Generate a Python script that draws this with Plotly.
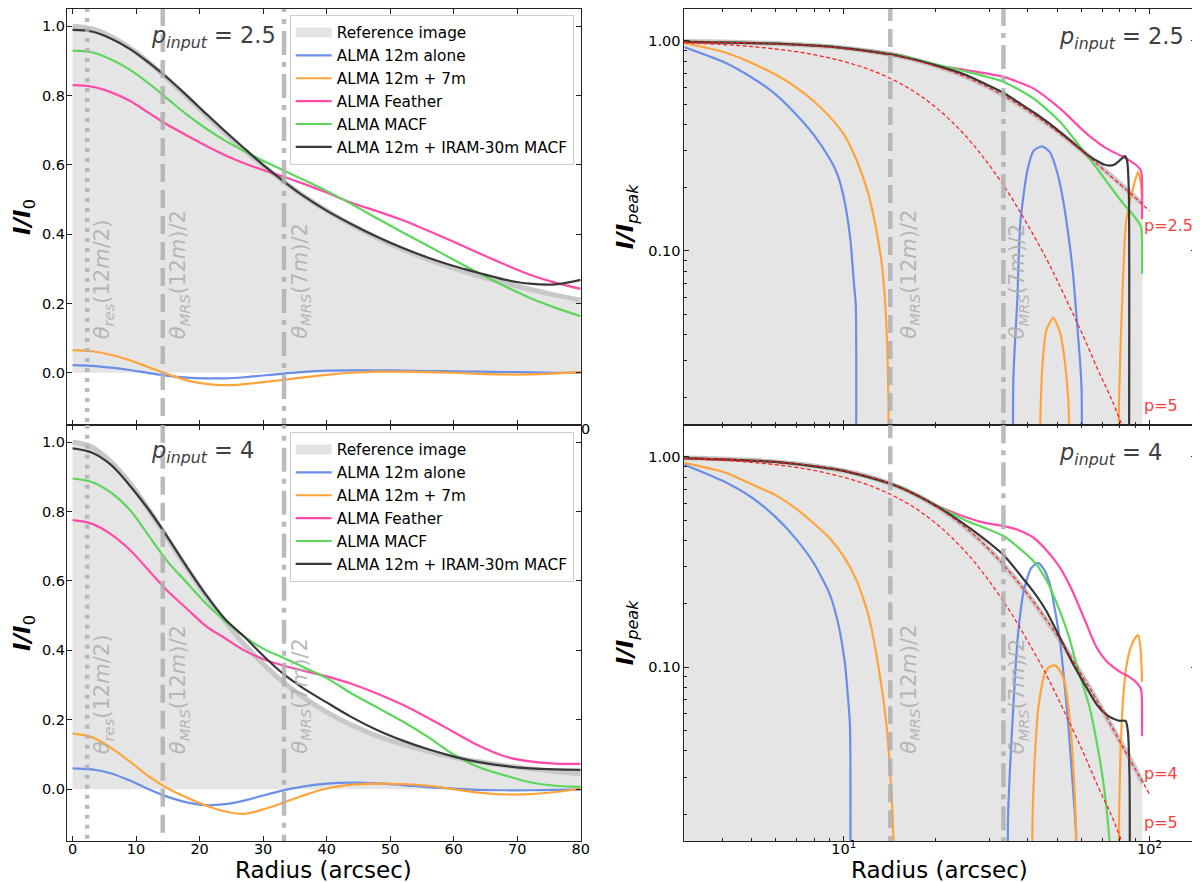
import plotly.graph_objects as go

# ---- radial profiles, linear panels (I/I0) ----
r_lin = [0, 3, 6, 9, 12, 15, 18, 21, 24, 27, 30, 33, 36, 40, 44, 48, 52, 56, 60, 64, 68, 72, 76, 80]

# p_input = 2.5
ref25 = [1.0, 0.993, 0.971, 0.938, 0.896, 0.848, 0.796, 0.744, 0.693, 0.644, 0.598, 0.555, 0.515, 0.468, 0.426, 0.389, 0.356, 0.327, 0.302, 0.279, 0.259, 0.241, 0.224, 0.210]
alone25 = [0.022, 0.02, 0.015, 0.008, -0.001, -0.009, -0.014, -0.016, -0.016, -0.013, -0.008, -0.003, 0.002, 0.006, 0.007, 0.007, 0.006, 0.005, 0.004, 0.003, 0.002, 0.001, 0.0, 0.0]
aca25 = [0.065, 0.062, 0.052, 0.036, 0.016, -0.004, -0.022, -0.032, -0.036, -0.033, -0.027, -0.021, -0.014, -0.006, 0.0, 0.003, 0.003, 0.002, 0.0, -0.003, -0.005, -0.005, -0.002, 0.002]
feather25 = [0.83, 0.826, 0.81, 0.785, 0.75, 0.715, 0.685, 0.655, 0.628, 0.605, 0.585, 0.567, 0.548, 0.52, 0.49, 0.466, 0.44, 0.41, 0.378, 0.345, 0.313, 0.283, 0.26, 0.242]
macf25 = [0.93, 0.925, 0.905, 0.875, 0.835, 0.79, 0.745, 0.705, 0.67, 0.64, 0.612, 0.586, 0.56, 0.525, 0.486, 0.445, 0.405, 0.366, 0.326, 0.287, 0.25, 0.216, 0.188, 0.163]
iram25 = [0.99, 0.985, 0.965, 0.935, 0.895, 0.85, 0.80, 0.748, 0.697, 0.648, 0.600, 0.556, 0.515, 0.468, 0.428, 0.392, 0.36, 0.332, 0.308, 0.288, 0.269, 0.257, 0.255, 0.268]

# p_input = 4
ref4 = [1.0, 0.986, 0.944, 0.882, 0.805, 0.721, 0.637, 0.557, 0.484, 0.418, 0.361, 0.311, 0.269, 0.222, 0.184, 0.153, 0.129, 0.109, 0.092, 0.079, 0.068, 0.059, 0.051, 0.045]
alone4 = [0.06, 0.057, 0.046, 0.025, 0.0, -0.022, -0.038, -0.046, -0.043, -0.033, -0.018, -0.004, 0.007, 0.016, 0.019, 0.017, 0.012, 0.006, 0.002, -0.002, -0.003, -0.003, -0.002, -0.001]
aca4 = [0.16, 0.15, 0.12, 0.08, 0.037, 0.002, -0.024, -0.047, -0.064, -0.071, -0.058, -0.04, -0.02, 0.002, 0.013, 0.016, 0.015, 0.01, 0.0, -0.01, -0.015, -0.014, -0.008, 0.002]
feather4 = [0.775, 0.765, 0.735, 0.69, 0.63, 0.57, 0.52, 0.47, 0.435, 0.4, 0.375, 0.357, 0.343, 0.325, 0.303, 0.275, 0.243, 0.205, 0.165, 0.125, 0.095, 0.08, 0.074, 0.073]
macf4 = [0.895, 0.885, 0.855, 0.805, 0.73, 0.655, 0.595, 0.535, 0.485, 0.44, 0.405, 0.38, 0.355, 0.32, 0.275, 0.235, 0.195, 0.15, 0.10, 0.063, 0.04, 0.02, 0.01, 0.007]
iram4 = [0.982, 0.97, 0.935, 0.875, 0.805, 0.725, 0.64, 0.56, 0.49, 0.44, 0.385, 0.335, 0.295, 0.25, 0.207, 0.17, 0.14, 0.115, 0.094, 0.078, 0.067, 0.06, 0.057, 0.056]

# ---- log panels (I/Ipeak), None breaks where the profile goes negative ----
ref_log_r = [3, 4, 5, 6, 7, 8, 10, 12, 14, 16, 18, 20, 23, 26, 30, 34, 38, 42, 47, 52, 58, 64, 70, 76, 82, 88, 95]
ref25_log = [0.993, 0.987, 0.98, 0.971, 0.962, 0.95, 0.925, 0.896, 0.864, 0.831, 0.796, 0.761, 0.71, 0.66, 0.598, 0.541, 0.491, 0.446, 0.398, 0.356, 0.314, 0.279, 0.249, 0.224, 0.203, 0.185, 0.167]
ref4_log = [0.986, 0.975, 0.961, 0.944, 0.925, 0.904, 0.857, 0.805, 0.749, 0.693, 0.637, 0.583, 0.507, 0.439, 0.361, 0.296, 0.244, 0.202, 0.16, 0.129, 0.1, 0.079, 0.063, 0.051, 0.042, 0.035, 0.028]

law_r = [3, 5, 8, 12, 16, 20, 25, 30, 35, 40, 46, 52, 60, 68, 76, 84, 92, 100]
law25 = [0.99, 0.978, 0.948, 0.893, 0.828, 0.758, 0.675, 0.596, 0.527, 0.466, 0.405, 0.354, 0.30, 0.257, 0.222, 0.196, 0.174, 0.155]
law4 = [0.986, 0.961, 0.904, 0.805, 0.693, 0.583, 0.461, 0.361, 0.282, 0.222, 0.168, 0.129, 0.092, 0.068, 0.051, 0.039, 0.031, 0.025]
law5 = [0.98, 0.94, 0.86, 0.735, 0.605, 0.483, 0.354, 0.255, 0.184, 0.133, 0.092, 0.064, 0.041, 0.027, 0.019, 0.013, None, None]

alone25_r = [3, 4, 5, 6, 7, 8, 9, 9.5, 10, 10.5, 10.8, 10.95, 10.96, None, 35.8, 35.9, 37, 37.8, 39.8, 41.8, 44.5, 47.3, 50, 52.3, 54.5, 56.3, 58, 59.2, 60, 60.05]
alone25_log = [0.936, 0.80, 0.67, 0.555, 0.445, 0.355, 0.275, 0.235, 0.18, 0.115, 0.07, 0.055, 0.005, None, 0.005, 0.025, 0.06, 0.135, 0.238, 0.30, 0.315, 0.295, 0.235, 0.172, 0.115, 0.077, 0.045, 0.031, 0.022, 0.005]
aca25_r = [3, 4, 5, 6, 7, 8, 9, 10, 11, 12, 12.6, 13.3, 13.7, 14.0, 14.02, None, 43.9, 44.0, 44.8, 46, 48.5, 51, 53, 54.5, 54.6, None, 79.4, 79.6, 81.3, 83.9, 88.5, 91.8, 93.5, 94.6]
aca25_log = [0.978, 0.89, 0.785, 0.69, 0.6, 0.515, 0.435, 0.36, 0.272, 0.19, 0.14, 0.088, 0.053, 0.02, 0.005, None, 0.005, 0.016, 0.03, 0.042, 0.048, 0.041, 0.029, 0.017, 0.005, None, 0.005, 0.02, 0.053, 0.138, 0.2, 0.238, 0.215, 0.18]
feather25_r = [3, 6, 10, 15.4, 19.8, 25.4, 33.4, 41.8, 51, 62.3, 72.3, 81.1, 86, 91.8, 94.0, 94.6]
feather25_log = [0.993, 0.972, 0.927, 0.855, 0.77, 0.725, 0.674, 0.593, 0.477, 0.362, 0.308, 0.283, 0.27, 0.252, 0.24, 0.142]
macf25_r = [3, 6, 10, 15.4, 19.8, 25.4, 33.4, 41.8, 51, 62.3, 68.7, 75, 81.1, 83.9, 88, 91.8, 94.0, 94.6]
macf25_log = [0.993, 0.972, 0.927, 0.852, 0.775, 0.712, 0.638, 0.532, 0.412, 0.286, 0.238, 0.2, 0.172, 0.162, 0.15, 0.138, 0.13, 0.078]
iram25_r = [3, 6, 10, 15, 20, 25, 30, 33.4, 38, 42, 47, 52, 58, 63, 67.5, 71, 74, 77, 80, 83.2, 84.5, 85.6, 85.7]
iram25_log = [0.99, 0.97, 0.925, 0.85, 0.765, 0.69, 0.61, 0.565, 0.5, 0.455, 0.405, 0.36, 0.315, 0.285, 0.268, 0.258, 0.255, 0.258, 0.27, 0.283, 0.27, 0.2, 0.005]

alone4_r = [3, 4, 5, 6, 7, 8, 9, 9.6, 10.1, 10.3, 10.48, 10.5, None, 34.4, 34.5, 35.6, 37, 38.8, 41, 43.2, 45.3, 47.3, 49, 51, 52.7, 54.3, 56.3, 57.6, 57.7]
alone4_log = [0.919, 0.77, 0.64, 0.515, 0.405, 0.31, 0.222, 0.16, 0.103, 0.075, 0.053, 0.005, None, 0.005, 0.02, 0.053, 0.133, 0.23, 0.295, 0.313, 0.29, 0.247, 0.19, 0.133, 0.085, 0.053, 0.026, 0.016, 0.005]
aca4_r = [3, 4, 5, 6, 7, 8, 9, 10, 11, 12, 13, 13.8, 14.3, 14.55, 14.56, None, 41.3, 41.5, 42.3, 43.3, 45.3, 47, 49.1, 51, 53, 54.5, 55.7, 57, 57.5, 57.6, None, 79.4, 79.6, 80.5, 82, 84, 87, 90, 91.8, 93.5, 94.6]
aca4_log = [0.936, 0.85, 0.74, 0.655, 0.565, 0.48, 0.41, 0.335, 0.26, 0.18, 0.1, 0.053, 0.026, 0.015, 0.005, None, 0.005, 0.02, 0.04, 0.064, 0.092, 0.1, 0.102, 0.096, 0.083, 0.062, 0.044, 0.025, 0.016, 0.005, None, 0.005, 0.02, 0.04, 0.07, 0.1, 0.125, 0.138, 0.142, 0.125, 0.085]
feather4_r = [3, 6, 10, 15.4, 19.8, 25.4, 29, 33.4, 37, 41.8, 46, 51, 56, 62.3, 67, 72.3, 77, 81.1, 86, 91.8, 94.0, 94.6]
feather4_log = [0.985, 0.944, 0.857, 0.715, 0.593, 0.513, 0.485, 0.468, 0.45, 0.412, 0.36, 0.297, 0.23, 0.16, 0.125, 0.107, 0.099, 0.094, 0.09, 0.083, 0.078, 0.047]
macf4_r = [3, 6, 10, 15.4, 19.8, 25.4, 33.4, 41.8, 46, 51, 54.5, 57.8, 63.8, 68.7, 71.5, 74.1, 75.5]
macf4_log = [0.985, 0.944, 0.857, 0.715, 0.593, 0.494, 0.419, 0.319, 0.26, 0.184, 0.14, 0.103, 0.064, 0.037, 0.025, 0.0149, 0.01]
iram4_r = [3, 6, 10, 14, 17, 20, 23, 26, 28.6, 33.4, 38.1, 41.8, 46, 51, 56, 62.3, 67.5, 72.3, 76, 80, 83.6, 85, 86.1, 86.2]
iram4_log = [0.985, 0.944, 0.857, 0.75, 0.665, 0.585, 0.515, 0.455, 0.41, 0.34, 0.27, 0.228, 0.185, 0.138, 0.105, 0.08, 0.066, 0.0595, 0.057, 0.0556, 0.0556, 0.05, 0.03, 0.005]

# beam scales: theta_res(12m)/2, theta_MRS(12m)/2, theta_MRS(7m)/2
beam_r = [2.3, 14.2, 33.3]

names = ["ALMA 12m alone", "ALMA 12m + 7m", "ALMA Feather", "ALMA MACF", "ALMA 12m + IRAM-30m MACF"]
colors = ["#6a8ee8", "#ffa43a", "#ff4aa8", "#5cd65c", "#383838"]
FONT = "DejaVu Sans"
W, H = 1200, 882


def px(x):
    return x / W


def py(y):
    return 1 - y / H


fig = go.Figure()

panels = [
    ("x", "y", r_lin, ref25, [alone25, aca25, feather25, macf25, iram25], "legend"),
    ("x3", "y3", r_lin, ref4, [alone4, aca4, feather4, macf4, iram4], "legend2"),
]
for xa, ya, r, ref, curves, leg in panels:
    fig.add_trace(go.Scatter(x=r, y=ref, xaxis=xa, yaxis=ya, fill="tozeroy", fillcolor="#e5e5e5",
                             mode="lines", line=dict(color="#c8c8c8", width=5, shape="spline"),
                             showlegend=False, hoverinfo="skip"))
    fig.add_trace(go.Scatter(x=[None], y=[None], xaxis=xa, yaxis=ya, mode="lines", name="Reference image",
                             line=dict(color="#e3e3e3", width=10), legend=leg))
    for c, nm, col in zip(curves, names, colors):
        fig.add_trace(go.Scatter(x=r, y=c, xaxis=xa, yaxis=ya, mode="lines", name=nm, legend=leg,
                                 line=dict(color=col, width=2.2, shape="spline", smoothing=1)))
    for b, d in zip(beam_r, ["4px,6px", "18px,8px", "24px,7px,5px,7px"]):
        fig.add_trace(go.Scatter(x=[b, b], y=[-0.2, 1.1], xaxis=xa, yaxis=ya, mode="lines",
                                 line=dict(color="rgba(175,175,175,0.85)", width=4.5, dash=d),
                                 showlegend=False, hoverinfo="skip"))

log_panels = [
    ("x2", "y2", ref25_log, [(alone25_r, alone25_log), (aca25_r, aca25_log), (feather25_r, feather25_log),
                             (macf25_r, macf25_log), (iram25_r, iram25_log)], [law25, law5]),
    ("x4", "y4", ref4_log, [(alone4_r, alone4_log), (aca4_r, aca4_log), (feather4_r, feather4_log),
                            (macf4_r, macf4_log), (iram4_r, iram4_log)], [law4, law5]),
]
floor = 0.005
for xa, ya, ref, curves, laws in log_panels:
    fig.add_trace(go.Scatter(x=ref_log_r + [ref_log_r[-1], ref_log_r[0]], y=ref + [floor, floor],
                             xaxis=xa, yaxis=ya, fill="toself", fillcolor="#e5e5e5", mode="none",
                             showlegend=False, hoverinfo="skip"))
    fig.add_trace(go.Scatter(x=ref_log_r, y=ref, xaxis=xa, yaxis=ya, mode="lines",
                             line=dict(color="#c8c8c8", width=5, shape="spline"),
                             showlegend=False, hoverinfo="skip"))
    for (rr, c), col in zip(curves, colors):
        fig.add_trace(go.Scatter(x=rr, y=c, xaxis=xa, yaxis=ya, mode="lines", showlegend=False,
                                 line=dict(color=col, width=2.2, shape="spline", smoothing=0.6)))
    for lw in laws:
        fig.add_trace(go.Scatter(x=law_r, y=lw, xaxis=xa, yaxis=ya, mode="lines", showlegend=False,
                                 line=dict(color="#ff1a1a", width=1.2, dash="4px,2.5px", shape="spline")))
    for b, d in zip(beam_r[1:], ["18px,8px", "24px,7px,5px,7px"]):
        fig.add_trace(go.Scatter(x=[b, b], y=[0.001, 3], xaxis=xa, yaxis=ya, mode="lines",
                                 line=dict(color="rgba(175,175,175,0.85)", width=4.5, dash=d),
                                 showlegend=False, hoverinfo="skip"))

axis_common = dict(showline=True, linecolor="#222", linewidth=1, mirror="allticks", ticks="inside",
                   ticklen=5, tickcolor="#222", showgrid=False, zeroline=False,
                   tickfont=dict(family=FONT, size=14.5, color="black"))
lin_x = dict(axis_common, range=[-0.9, 80], tickvals=[0, 10, 20, 30, 40, 50, 60, 70, 80], ticklabelstandoff=-6)
lin_y = dict(axis_common, range=[-0.15, 1.05], tickvals=[0, 0.2, 0.4, 0.6, 0.8, 1.0],
             ticktext=["0.0", "0.2", "0.4", "0.6", "0.8", "1.0"], ticklabelstandoff=-2)
log_x = dict(axis_common, type="log", range=[0.4786, 2.1526], tickvals=[10, 100],
             ticktext=["10<sup>1</sup>", "10<sup>2</sup>"], ticklabelstandoff=-6,
             minor=dict(ticks="inside", ticklen=3, tickcolor="#222",
                        tickvals=[3, 4, 5, 6, 7, 8, 9, 20, 30, 40, 50, 60, 70, 80, 90]))
log_y = dict(axis_common, type="log", range=[-1.827, 0.152], tickvals=[0.1, 1], ticktext=["0.10", "1.00"],
             ticklabelstandoff=0,
             minor=dict(ticks="inside", ticklen=3, tickcolor="#222",
                        tickvals=[0.02, 0.03, 0.04, 0.05, 0.06, 0.07, 0.08, 0.09,
                                  0.2, 0.3, 0.4, 0.5, 0.6, 0.7, 0.8, 0.9]))

top_dom = [py(416.7), py(1)]
bot_dom = [py(833.3), py(416.7)]
left_dom = [px(59.3), px(577)]
right_dom = [px(681.5), px(1197)]

legend_style = dict(bgcolor="rgba(255,255,255,0.85)", bordercolor="#cccccc", borderwidth=1,
                    font=dict(family=FONT, size=15.3, color="black"), xanchor="right", yanchor="top",
                    x=px(570), tracegroupgap=0, itemwidth=36)

fig.update_layout(
    width=W, height=H, margin=dict(l=0, r=0, t=0, b=0),
    paper_bgcolor="white", plot_bgcolor="white",
    font=dict(family=FONT, color="black"),
    xaxis=dict(lin_x, domain=left_dom, anchor="y", showticklabels=False),
    yaxis=dict(lin_y, domain=top_dom, anchor="x"),
    xaxis2=dict(log_x, domain=right_dom, anchor="y2", showticklabels=False),
    yaxis2=dict(log_y, domain=top_dom, anchor="x2"),
    xaxis3=dict(lin_x, domain=left_dom, anchor="y3"),
    yaxis3=dict(lin_y, domain=bot_dom, anchor="x3"),
    xaxis4=dict(log_x, domain=right_dom, anchor="y4"),
    yaxis4=dict(log_y, domain=bot_dom, anchor="x4"),
    legend=dict(legend_style, y=py(7)),
    legend2=dict(legend_style, y=py(424)),
    showlegend=True,
)

annots = []
grey_txt = dict(family=FONT, size=21, color="rgba(175,175,175,0.9)")
theta_left = ["<i>θ</i><sub><i>res</i></sub>(12<i>m</i>/2)",
              "<i>θ</i><sub><i>MRS</i></sub>(12<i>m</i>)/2",
              "<i>θ</i><sub><i>MRS</i></sub>(7<i>m</i>)/2"]
for t, xp in zip(theta_left, [96, 172, 295]):
    for yb in [333, 748]:
        annots.append(dict(text=t, x=px(xp), y=py(yb), xanchor="center", yanchor="bottom",
                           textangle=-90, font=grey_txt))
for t, xp in zip(theta_left[1:], [908, 1018]):
    for yb in [333, 748]:
        annots.append(dict(text=t, x=px(xp), y=py(yb), xanchor="center", yanchor="bottom",
                           textangle=-90, font=grey_txt))

pin = dict(family=FONT, size=22.5, color="#404040")
for xp, yp, v in [(142, 29, "2.5"), (142, 444, "4"), (1057, 30, "2.5"), (1057, 446, "4")]:
    annots.append(dict(text="<i>p</i><sub><i>input</i></sub> = " + v, x=px(xp), y=py(yp),
                       xanchor="left", yanchor="middle", font=pin))

red = dict(family=FONT, size=16, color="#ff3c3c")
for yp, t in [(217, "p=2.5"), (397, "p=5"), (765, "p=4"), (814, "p=5")]:
    annots.append(dict(text=t, x=px(1143), y=py(yp), xanchor="left", yanchor="middle", font=red))

ttl = dict(family=FONT, size=23, color="black")
for yp in [209, 625]:
    annots.append(dict(text="<b><i>I/I</i></b><sub>0</sub>", x=px(16), y=py(yp), textangle=-90,
                       xanchor="center", yanchor="middle", font=ttl))
    annots.append(dict(text="<b><i>I/I</i></b><sub><i>peak</i></sub>", x=px(624), y=py(yp), textangle=-90,
                       xanchor="center", yanchor="middle", font=ttl))
for xp in [318, 939]:
    annots.append(dict(text="Radius (arcsec)", x=px(xp), y=py(862), xanchor="center", yanchor="middle",
                       font=dict(family=FONT, size=23, color="black")))
annots.append(dict(text="0", x=px(582), y=py(421), xanchor="center", yanchor="middle",
                   font=dict(family=FONT, size=14.5, color="black")))

for a in annots:
    a.update(xref="paper", yref="paper", showarrow=False)
fig.update_layout(annotations=annots)

fig.write_html("out.html")
